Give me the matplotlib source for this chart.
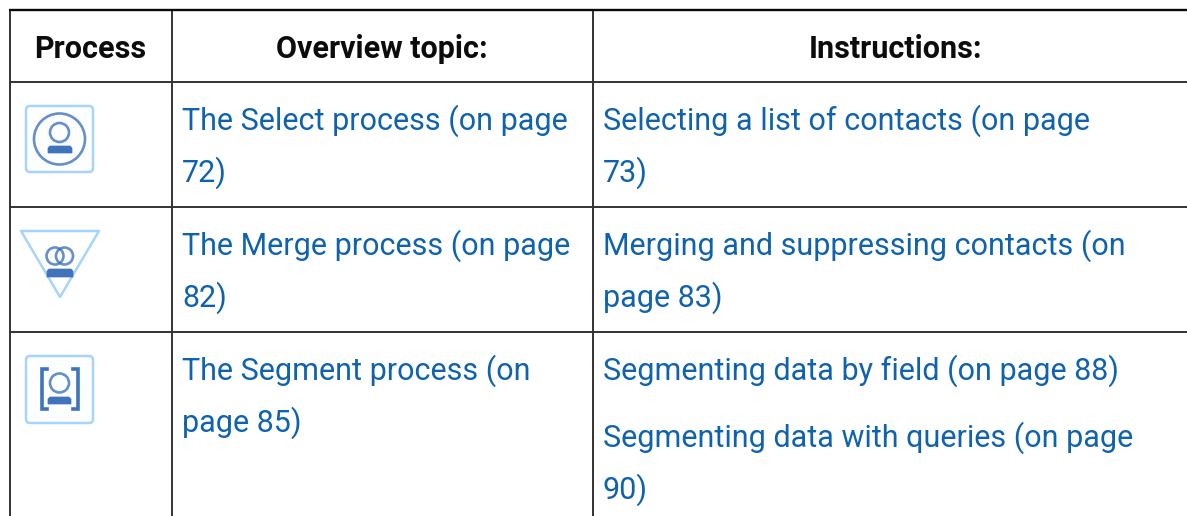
import matplotlib
matplotlib.use("Agg")
import matplotlib.pyplot as plt
from matplotlib.patches import FancyBboxPatch, Circle, Polygon

W, H = 1187, 516
headers = ["Process", "Overview topic:", "Instructions:"]
header_x = [90.5, 382, 895.5]
col_lines = [10, 171.5, 593]
row_lines = [10, 81.5, 207, 332]
overview = [("The Select process (on page", 121), ("72)", 173),
            ("The Merge process (on page", 246), ("82)", 298),
            ("The Segment process (on", 371), ("page 85)", 423)]
instructions = [("Selecting a list of contacts (on page", 121), ("73)", 173),
                ("Merging and suppressing contacts (on", 246), ("page 83)", 298),
                ("Segmenting data by field (on page 88)", 371),
                ("Segmenting data with queries (on page", 438), ("90)", 490)]
LINK = "#0f62ae"
INK = "#0c0c0c"
LINE = "#333333"
PALE = "#a6d4fb"
ICON = "#3f74bd"
FONT = "Roboto"

fig = plt.figure(figsize=(W / 100, H / 100), dpi=100)
ax = fig.add_axes([0, 0, 1, 1])
ax.set_xlim(0, W)
ax.set_ylim(H, 0)
ax.axis("off")

for x in col_lines:
    ax.plot([x, x], [row_lines[0], H], color=LINE, lw=1.4, solid_capstyle="butt")
for i, y in enumerate(row_lines):
    ax.plot([col_lines[0] - 1, W], [y, y], color="#0a0a0a" if i == 0 else LINE,
            lw=1.7 if i == 0 else 1.4, solid_capstyle="butt")

for text, x in zip(headers, header_x):
    ax.text(x, 48.5, text, ha="center", va="center", fontsize=22,
            fontweight="bold", color=INK, family=FONT)
for rows, x in ((overview, 182), (instructions, 603)):
    for text, y in rows:
        ax.text(x, y, text, ha="left", va="center", fontsize=22, color=LINK, family=FONT)

def bust(x0, x1, y0, y1):
    ax.add_patch(Polygon([(x0 + 2, y0), (x1 - 2, y0), (x1, y0 + 2), (x1, y1), (x0, y1), (x0, y0 + 2)],
                         closed=True, fc=ICON, ec=ICON, lw=0.5))

def square(x0, y0, x1, y1):
    ax.add_patch(FancyBboxPatch((x0 + 3, y0 + 3), x1 - x0 - 6, y1 - y0 - 6,
                                boxstyle="round,pad=3,rounding_size=4",
                                fc="#fdfeff", ec=PALE, lw=1.8))

# Select icon
square(26, 106, 93, 172)
ax.add_patch(Circle((59.5, 139), 25.5, fill=False, ec=ICON, lw=1.9, alpha=0.8))
ax.add_patch(Circle((59.5, 132.5), 9.5, fill=False, ec=ICON, lw=1.9, alpha=0.8))
bust(48, 72, 146, 153)

# Merge icon
ax.add_patch(Polygon([(21, 231), (99, 231), (60, 297)], closed=True, fill=False,
                     ec=PALE, lw=1.8, joinstyle="round"))
ax.add_patch(Circle((55, 256), 8.5, fill=False, ec=ICON, lw=1.9, alpha=0.8))
ax.add_patch(Circle((64.5, 256), 8.5, fill=False, ec=ICON, lw=1.9, alpha=0.8))
bust(47, 73, 269, 277)

# Segment icon
square(26, 356, 93, 423)
ax.add_patch(Circle((59.5, 383), 9.5, fill=False, ec=ICON, lw=1.9, alpha=0.8))
bust(48, 71, 397, 404)
for sx, x0 in ((1, 42), (-1, 77.5)):
    ax.plot([x0 + 5 * sx, x0, x0, x0 + 5 * sx], [369, 369, 409, 409],
            color=ICON, lw=2.6, solid_joinstyle="miter")

fig.savefig("out.png", dpi=100, facecolor="white")
